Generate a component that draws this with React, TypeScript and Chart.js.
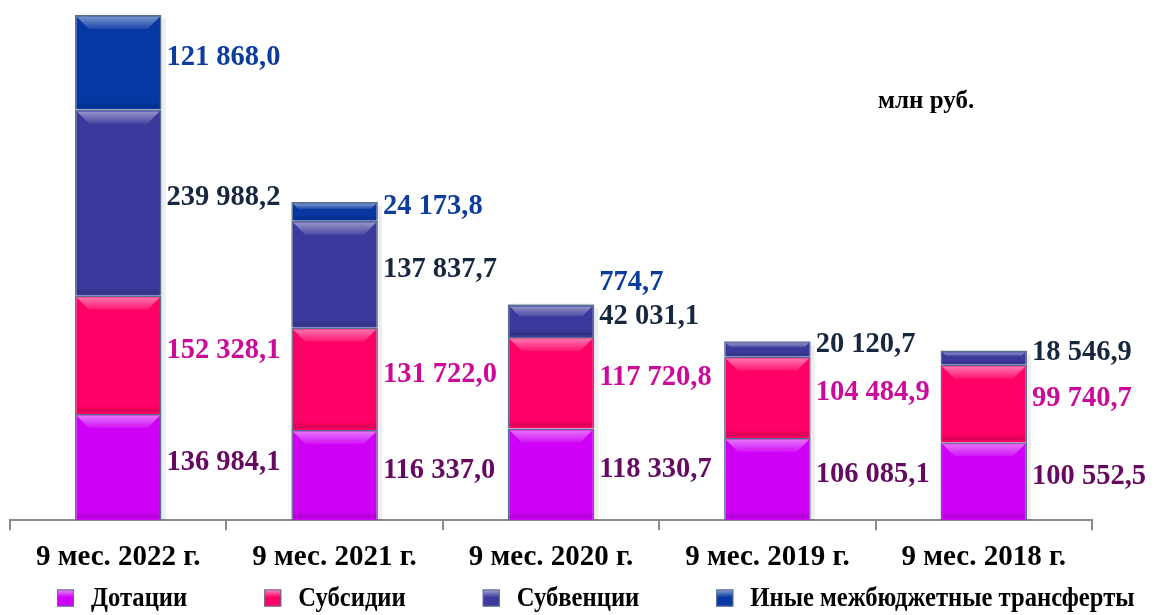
import React, { useEffect, useRef } from "react";
import { Chart, registerables } from "chart.js";

Chart.register(...registerables);

const categories = ["9 мес. 2022 г.", "9 мес. 2021 г.", "9 мес. 2020 г.", "9 мес. 2019 г.", "9 мес. 2018 г."];
const seriesNames = ["Дотации", "Субсидии", "Субвенции", "Иные межбюджетные трансферты"];
const dotacii = [136984.1, 116337.0, 118330.7, 106085.1, 100552.5];
const subsidii = [152328.1, 131722.0, 117720.8, 104484.9, 99740.7];
const subvencii = [239988.2, 137837.7, 42031.1, 20120.7, 18546.9];
const inye: (number | null)[] = [121868.0, 24173.8, 774.7, null, null];
const unitLabel = "млн руб.";

const fillColors = ["#cf00f6", "#ff0066", "#3b3a9c", "#0637a2"];
const labelColors = ["#650a60", "#cc0a99", "#17273f", "#0b3c9e"];
const FONT = "'Liberation Serif', 'Times New Roman', serif";

function fmt(v: number): string {
  const [i, d] = v.toFixed(1).split(".");
  const g = i.replace(/\B(?=(\d{3})+(?!\d))/g, " ");
  return g + "," + d;
}

const shadowPlugin = {
  id: "barShadow",
  beforeDatasetsDraw(chart: any) {
    const ctx = chart.ctx;
    const n = chart.data.labels.length;
    ctx.save();
    for (let i = 0; i < n; i++) {
      let top = Infinity;
      let bottom = -Infinity;
      let cx = 0;
      let w = 0;
      chart.data.datasets.forEach((ds: any, di: number) => {
        if (ds.data[i] == null) return;
        const el = chart.getDatasetMeta(di).data[i];
        const p = el.getProps(["x", "y", "base", "width"], true);
        top = Math.min(top, p.y);
        bottom = Math.max(bottom, p.base);
        cx = p.x;
        w = p.width;
      });
      ctx.fillStyle = "rgba(0,0,0,0.07)";
      ctx.fillRect(cx - w / 2 + 4, top + 4, w, bottom - top - 4);
    }
    ctx.restore();
  },
};

const bevelPlugin = {
  id: "bevel",
  afterDatasetsDraw(chart: any) {
    const ctx = chart.ctx;
    ctx.save();
    chart.data.datasets.forEach((ds: any, di: number) => {
      chart.getDatasetMeta(di).data.forEach((el: any, i: number) => {
        if (ds.data[i] == null) return;
        const p = el.getProps(["x", "y", "base", "width"], true);
        const h = p.base - p.y;
        if (h < 3) return;
        const l = p.x - p.width / 2 + 2;
        const r = p.x + p.width / 2 - 2;
        const t = p.y + 2;
        const b = p.base - 2;
        const bh = Math.min(12, (b - t) * 0.35);
        const g = ctx.createLinearGradient(0, t, 0, t + bh);
        g.addColorStop(0, "rgba(255,255,255,0.45)");
        g.addColorStop(1, "rgba(255,255,255,0.08)");
        ctx.fillStyle = g;
        ctx.beginPath();
        ctx.moveTo(l, t);
        ctx.lineTo(r, t);
        ctx.lineTo(r - bh, t + bh);
        ctx.lineTo(l + bh, t + bh);
        ctx.closePath();
        ctx.fill();
        const dh = Math.min(6, (b - t) * 0.2);
        const g2 = ctx.createLinearGradient(0, b - dh, 0, b);
        g2.addColorStop(0, "rgba(0,0,0,0)");
        g2.addColorStop(1, "rgba(0,0,0,0.18)");
        ctx.fillStyle = g2;
        ctx.fillRect(l, b - dh, r - l, dh);
      });
    });
    ctx.restore();
  },
};

const labelPlugin = {
  id: "segLabels",
  afterDatasetsDraw(chart: any) {
    const ctx = chart.ctx;
    ctx.save();
    ctx.font = `bold 30px ${FONT}`;
    ctx.textBaseline = "middle";
    ctx.textAlign = "left";
    const n = chart.data.labels.length;
    for (let i = 0; i < n; i++) {
      let prevY = Infinity;
      chart.data.datasets.forEach((ds: any, di: number) => {
        const v = ds.data[i];
        if (v == null) return;
        const el = chart.getDatasetMeta(di).data[i];
        const p = el.getProps(["x", "y", "base", "width"], true);
        let ly = (p.y + p.base) / 2 - 5;
        if (ly > prevY - 34) ly = prevY - 34;
        prevY = ly;
        const lx = p.x + p.width / 2 + 5;
        ctx.save();
        ctx.translate(lx, ly);
        ctx.scale(0.95, 1);
        ctx.fillStyle = labelColors[di];
        ctx.fillText(fmt(v), 0, 0);
        ctx.restore();
      });
    }
    ctx.restore();
  },
};

const extrasPlugin = {
  id: "extras",
  afterDraw(chart: any) {
    const ctx = chart.ctx;
    ctx.save();
    ctx.font = `bold 25px ${FONT}`;
    ctx.fillStyle = "#000";
    ctx.textBaseline = "alphabetic";
    ctx.fillText(unitLabel, 878, 108);

    ctx.font = `bold 28px ${FONT}`;
    ctx.textBaseline = "middle";
    const sx = 0.88;
    let x = 57;
    const y = 599;
    chart.data.datasets.forEach((ds: any) => {
      const s = 17;
      const g = ctx.createLinearGradient(0, y - s / 2, 0, y + s / 2);
      g.addColorStop(0, "rgba(255,255,255,0.5)");
      g.addColorStop(0.4, "rgba(255,255,255,0)");
      ctx.fillStyle = ds.backgroundColor;
      ctx.fillRect(x, y - s / 2 - 1, s, s);
      ctx.fillStyle = g;
      ctx.fillRect(x, y - s / 2 - 1, s, s);
      ctx.strokeStyle = "#5b6f8f";
      ctx.lineWidth = 1;
      ctx.strokeRect(x + 0.5, y - s / 2 - 0.5, s - 1, s - 1);
      ctx.save();
      ctx.translate(x + 34, y);
      ctx.scale(sx, 1);
      ctx.fillStyle = "#000";
      ctx.fillText(ds.label, 0, 0);
      ctx.restore();
      x = x + 34 + ctx.measureText(ds.label).width * sx + 77;
    });
    ctx.restore();
  },
};

export default function App() {
  const ref = useRef<HTMLCanvasElement | null>(null);
  useEffect(() => {
    if (!ref.current) return;
    const series = [dotacii, subsidii, subvencii, inye];
    const totals = categories.map((_, i) => series.reduce((s, arr) => s + (arr[i] ?? 0), 0));
    const maxTotal = Math.max(...totals);
    const chart = new Chart(ref.current, {
      type: "bar",
      data: {
        labels: categories,
        datasets: series.map((arr, i) => ({
          label: seriesNames[i],
          data: arr,
          backgroundColor: fillColors[i],
          borderColor: "#5b6f8f",
          borderWidth: 1.5,
          barPercentage: 0.4,
          categoryPercentage: 1,
        })),
      },
      options: {
        responsive: false,
        animation: false,
        devicePixelRatio: 1,
        layout: { padding: { left: 10, right: 63, top: 15, bottom: 30 } },
        plugins: { legend: { display: false }, tooltip: { enabled: false }, title: { display: false } },
        scales: {
          x: {
            stacked: true,
            offset: true,
            grid: {
              display: true,
              drawOnChartArea: false,
              drawTicks: true,
              tickLength: 10,
              color: "#8a8a8a",
              lineWidth: 2,
              offset: true,
            },
            border: { display: true, color: "#8a8a8a", width: 2 },
            ticks: {
              color: "#000",
              font: { family: FONT, size: 29, weight: "bold" },
              padding: 10,
              maxRotation: 0,
              autoSkip: false,
            },
          },
          y: { stacked: true, display: false, min: 0, max: maxTotal },
        },
      },
      plugins: [shadowPlugin, bevelPlugin, labelPlugin, extrasPlugin],
    } as any);
    return () => chart.destroy();
  }, []);
  return (
    <div style={{ position: "absolute", left: 0, top: 0, width: 1155, height: 615, background: "#fff" }}>
      <canvas ref={ref} width={1155} height={615} />
    </div>
  );
}
